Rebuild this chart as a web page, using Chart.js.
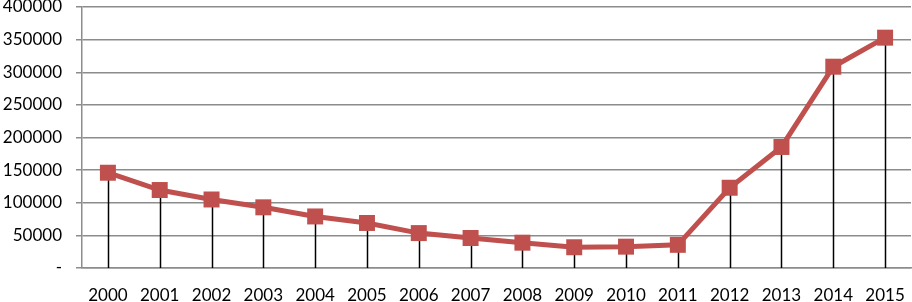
<!DOCTYPE html>
<html>
<head>
<meta charset="utf-8">
<script src="https://cdn.jsdelivr.net/npm/chart.js@4"></script>
<style>
    html, body { margin: 0; padding: 0; background: #fff; }
    #wrap { width: 912px; height: 302px; }
</style>
</head>
<body>
<div id="wrap"><canvas id="grafico"></canvas></div>
<script>
const anos = ['2000', '2001', '2002', '2003', '2004', '2005', '2006', '2007',
              '2008', '2009', '2010', '2011', '2012', '2013', '2014', '2015'];
const valores = [146000, 119500, 105000, 93000, 79000, 69000, 53500, 46000,
                 38800, 31800, 32700, 35500, 123000, 185500, 308500, 353000];
const yTicks = [0, 50000, 100000, 150000, 200000, 250000, 300000, 350000, 400000];

// linhas verticais do ponto até o eixo x
const linhasQueda = {
    id: 'linhasQueda',
    beforeDatasetsDraw(chart) {
        let ctx = chart.ctx;
        let meta = chart.getDatasetMeta(0);
        let yBase = chart.scales.y.getPixelForValue(0);
        ctx.save();
        ctx.strokeStyle = '#000';
        ctx.lineWidth = 1.5;
        meta.data.forEach(function(p) {
            ctx.beginPath();
            ctx.moveTo(Math.round(p.x) + 0.5, p.y);
            ctx.lineTo(Math.round(p.x) + 0.5, yBase);
            ctx.stroke();
        });
        ctx.restore();
    }
};

let ctx = document.getElementById('grafico').getContext('2d');
new Chart(ctx, {
    type: 'line',
    data: {
        labels: anos,
        datasets: [{
            data: valores,
            borderColor: '#C0504D',
            backgroundColor: '#C0504D',
            borderWidth: 5,
            pointStyle: 'rect',
            pointRadius: 11.3,
            pointHoverRadius: 11.3,
            pointBorderWidth: 0,
            tension: 0,
            clip: false
        }]
    },
    options: {
        responsive: true,
        maintainAspectRatio: false,
        animation: false,
        layout: { autoPadding: false, padding: { top: 7, right: 1, left: 0, bottom: 0 } },
        plugins: { legend: { display: false }, tooltip: { enabled: false } },
        scales: {
            x: {
                offset: true,
                grid: { display: false, drawTicks: false },
                border: { color: '#8c8c8c', width: 1.5 },
                ticks: {
                    color: '#000',
                    font: { family: 'Lato', size: 17 },
                    padding: 17,
                    maxRotation: 0,
                    autoSkip: false
                },
                afterFit(scale) {
                    scale.height = 34;
                    scale.paddingLeft = 0;
                    scale.paddingRight = 0;
                }
            },
            y: {
                min: 0,
                max: 400000,
                afterBuildTicks(scale) {
                    scale.ticks = yTicks.map(v => ({ value: v }));
                },
                grid: { color: '#8c8c8c', lineWidth: 1.5, tickLength: 6 },
                border: { color: '#8c8c8c', width: 1.5 },
                ticks: {
                    color: '#000',
                    font: { family: 'Lato', size: 17 },
                    padding: 14,
                    callback: function(v) { return v === 0 ? '-' : String(v); }
                },
                afterFit(scale) {
                    scale.width = 82;
                    scale.paddingTop = 0;
                    scale.paddingBottom = 0;
                }
            }
        }
    },
    plugins: [linhasQueda]
});
</script>
</body>
</html>
